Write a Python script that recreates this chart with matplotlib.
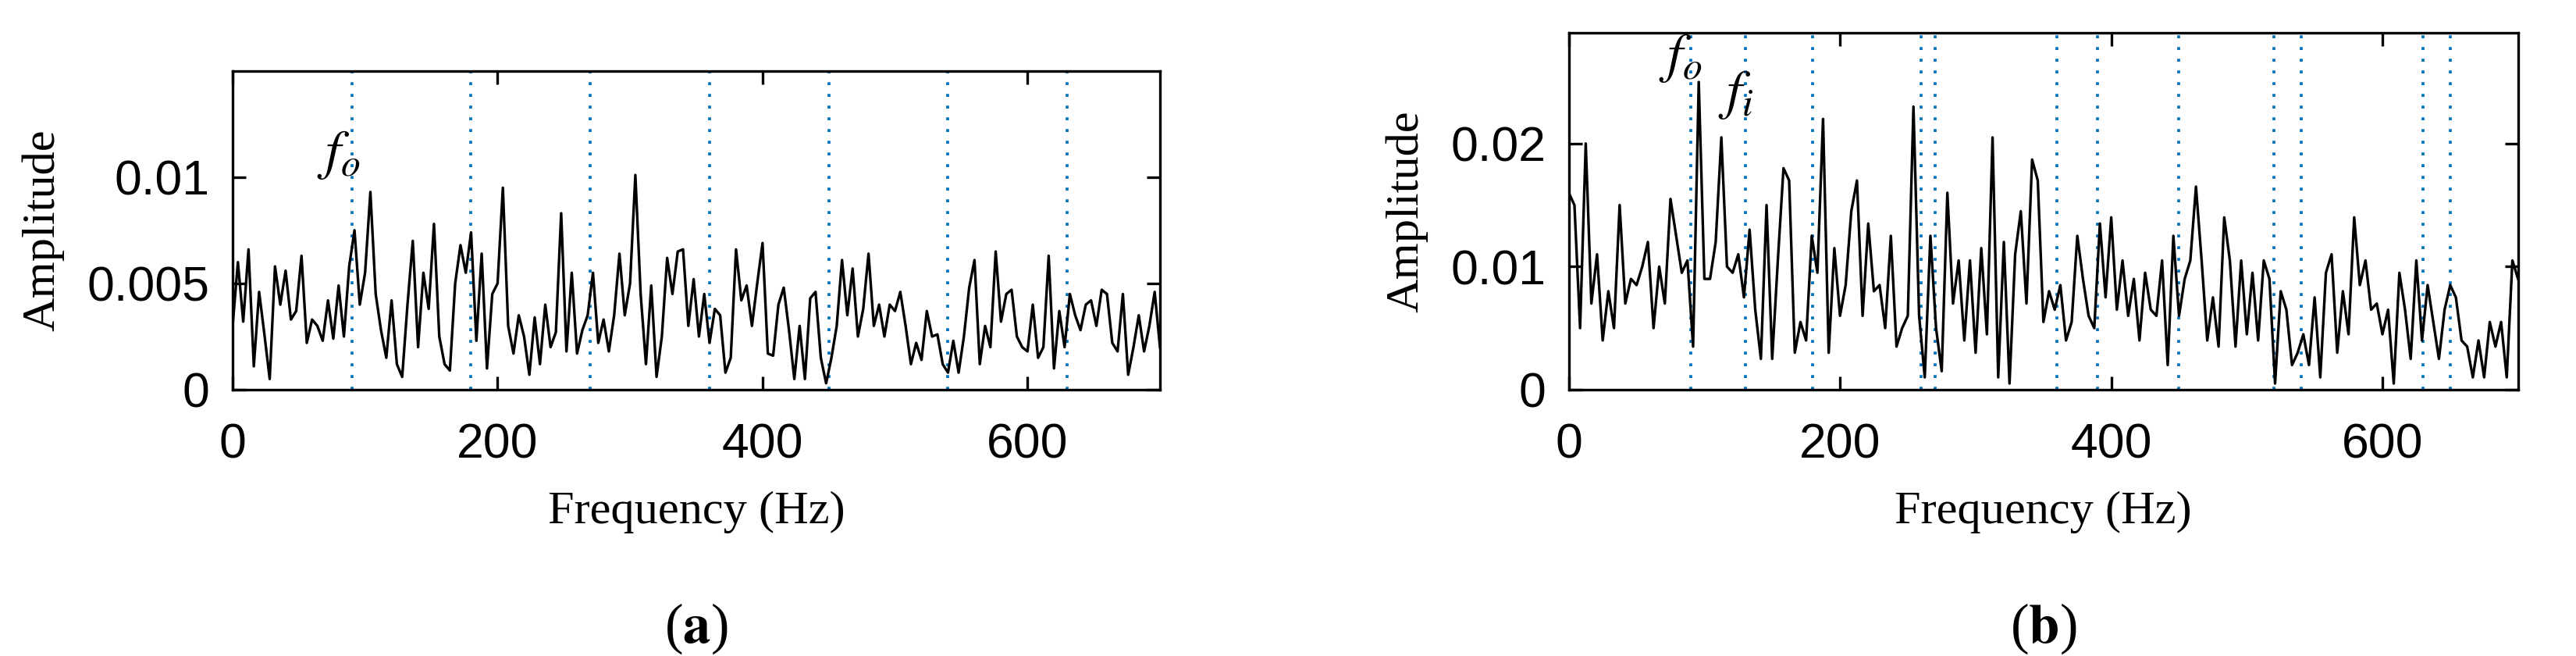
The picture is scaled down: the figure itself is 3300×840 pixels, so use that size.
import numpy as np
import matplotlib
matplotlib.use("Agg")
import matplotlib.pyplot as plt

plt.rcParams["mathtext.fontset"] = "stix"

# spectrum (a): amplitude, sampled every ~4 Hz from 0 to 700 Hz
amp_a = [0.0030, 0.0060, 0.0032, 0.0066, 0.0011, 0.0046, 0.0026, 0.0005, 0.0058, 0.0040,
         0.0056, 0.0033, 0.0037, 0.0063, 0.0022, 0.0033, 0.0030, 0.0023, 0.0042, 0.0024,
         0.0049, 0.0025, 0.0058, 0.0075, 0.0040, 0.0055, 0.0093, 0.0045, 0.0028, 0.0015,
         0.0042, 0.0012, 0.0006, 0.0040, 0.0070, 0.0020, 0.0055, 0.0038, 0.0078, 0.0025,
         0.0012, 0.0009, 0.0050, 0.0068, 0.0055, 0.0074, 0.0023, 0.0064, 0.0010, 0.0045,
         0.0050, 0.0095, 0.0030, 0.0017, 0.0035, 0.0025, 0.0007, 0.0034, 0.0012, 0.0040,
         0.0020, 0.0027, 0.0083, 0.0018, 0.0055, 0.0017, 0.0028, 0.0035, 0.0055, 0.0022,
         0.0033, 0.0018, 0.0035, 0.0064, 0.0035, 0.0050, 0.0101, 0.0045, 0.0012, 0.0049,
         0.0006, 0.0025, 0.0062, 0.0045, 0.0065, 0.0066, 0.0030, 0.0052, 0.0025, 0.0045,
         0.0022, 0.0038, 0.0035, 0.0008, 0.0015, 0.0066, 0.0042, 0.0049, 0.0030, 0.0050,
         0.0069, 0.0017, 0.0016, 0.0040, 0.0048, 0.0028, 0.0005, 0.0030, 0.0005, 0.0043,
         0.0046, 0.0015, 0.0003, 0.0015, 0.0030, 0.0061, 0.0035, 0.0057, 0.0025, 0.0038,
         0.0064, 0.0030, 0.0040, 0.0025, 0.0040, 0.0037, 0.0046, 0.0030, 0.0012, 0.0022,
         0.0014, 0.0037, 0.0025, 0.0026, 0.0012, 0.0008, 0.0023, 0.0008, 0.0025, 0.0048,
         0.0061, 0.0012, 0.0030, 0.0020, 0.0065, 0.0032, 0.0045, 0.0047, 0.0025, 0.0020,
         0.0018, 0.0040, 0.0015, 0.0020, 0.0063, 0.0010, 0.0037, 0.0020, 0.0045, 0.0035,
         0.0028, 0.0040, 0.0042, 0.0030, 0.0047, 0.0045, 0.0022, 0.0018, 0.0045, 0.0007,
         0.0020, 0.0035, 0.0018, 0.0030, 0.0046, 0.0020]

# spectrum (b)
amp_b = [0.016, 0.015, 0.005, 0.020, 0.007, 0.011, 0.004, 0.008, 0.005, 0.015,
         0.007, 0.009, 0.0085, 0.010, 0.012, 0.005, 0.010, 0.007, 0.0155, 0.0125,
         0.0095, 0.0105, 0.0035, 0.025, 0.009, 0.009, 0.012, 0.0205, 0.010, 0.0095,
         0.011, 0.0075, 0.013, 0.0065, 0.0025, 0.015, 0.0025, 0.0105, 0.018, 0.017,
         0.003, 0.0055, 0.004, 0.0125, 0.0095, 0.022, 0.003, 0.0115, 0.006, 0.0085,
         0.0145, 0.017, 0.006, 0.0135, 0.008, 0.0085, 0.005, 0.0125, 0.0035, 0.005,
         0.006, 0.023, 0.006, 0.001, 0.0125, 0.005, 0.0015, 0.016, 0.007, 0.0105,
         0.004, 0.0105, 0.003, 0.0115, 0.0045, 0.0205, 0.001, 0.012, 0.0005, 0.011,
         0.0145, 0.007, 0.0187, 0.017, 0.0055, 0.008, 0.0065, 0.0085, 0.004, 0.0055,
         0.0125, 0.009, 0.006, 0.005, 0.0135, 0.0075, 0.014, 0.0065, 0.0105, 0.006,
         0.009, 0.004, 0.0095, 0.0065, 0.006, 0.0105, 0.002, 0.0125, 0.006, 0.009,
         0.0105, 0.0165, 0.0105, 0.004, 0.0075, 0.0035, 0.014, 0.0105, 0.0035, 0.0105,
         0.0045, 0.0095, 0.004, 0.0105, 0.009, 0.0005, 0.008, 0.0065, 0.002, 0.003,
         0.0045, 0.002, 0.0075, 0.001, 0.0095, 0.011, 0.003, 0.008, 0.0045, 0.014,
         0.0085, 0.0105, 0.0065, 0.007, 0.0045, 0.0065, 0.0005, 0.0095, 0.0065, 0.0025,
         0.0105, 0.004, 0.0085, 0.0055, 0.0025, 0.0065, 0.0085, 0.0075, 0.004, 0.0035,
         0.001, 0.004, 0.001, 0.0055, 0.0035, 0.0055, 0.001, 0.0105, 0.009]

# characteristic frequency markers (Hz)
marks_a = [90, 180, 270, 360, 450, 540, 630]
marks_b = [90, 130, 180, 260, 270, 360, 390, 450, 520, 540, 630, 650]

fig = plt.figure(figsize=(11, 2.8), dpi=300)
serif = "Liberation Serif"
sans = "Liberation Sans"


def draw(ax, amp, marks, ymax, yticks, yticklabels, letter, letter_y, labels):
    freq = np.linspace(0, 700, len(amp))
    for m in marks:
        ax.axvline(m, color="#0072BD", ls=(0, (1, 3)), lw=0.9)
    ax.plot(freq, amp, color="black", lw=0.8)
    ax.set_xlim(0, 700)
    ax.set_ylim(0, ymax)
    ax.set_xticks([0, 200, 400, 600])
    ax.set_yticks(yticks)
    ax.set_yticklabels(yticklabels)
    ax.tick_params(direction="in", top=True, right=True, labelsize=15, width=0.8, length=4)
    ax.tick_params(axis="x", pad=10)
    ax.tick_params(axis="y", pad=7)
    for lab in ax.get_xticklabels() + ax.get_yticklabels():
        lab.set_fontfamily(sans)
    for s in ax.spines.values():
        s.set_linewidth(0.8)
    ax.set_xlabel("Frequency (Hz)", family=serif, fontsize=14.5, labelpad=7)
    ax.set_ylabel("Amplitude", family=serif, fontsize=14.5, labelpad=7)
    for x, y, t in labels:
        ax.text(x, y, t, fontsize=17, ha="center", va="bottom")
    ax.text(0.5, letter_y, letter, transform=ax.transAxes, family=serif,
            fontsize=17, ha="center", va="center")


ax1 = fig.add_axes([0.0903, 0.406, 0.360, 0.486])
draw(ax1, amp_a, marks_a, 0.015, [0, 0.005, 0.01], ["0", "0.005", "0.01"],
     r"($\mathbf{a}$)", -0.75, [(80, 0.0098, r"$f_o$")])

ax2 = fig.add_axes([0.609, 0.406, 0.3685, 0.544])
draw(ax2, amp_b, marks_b, 0.029, [0, 0.01, 0.02], ["0", "0.01", "0.02"],
     r"($\mathbf{b}$)", -0.67, [(82, 0.0248, r"$f_o$"), (123, 0.0218, r"$f_i$")])

fig.savefig("out.png", dpi=300)
